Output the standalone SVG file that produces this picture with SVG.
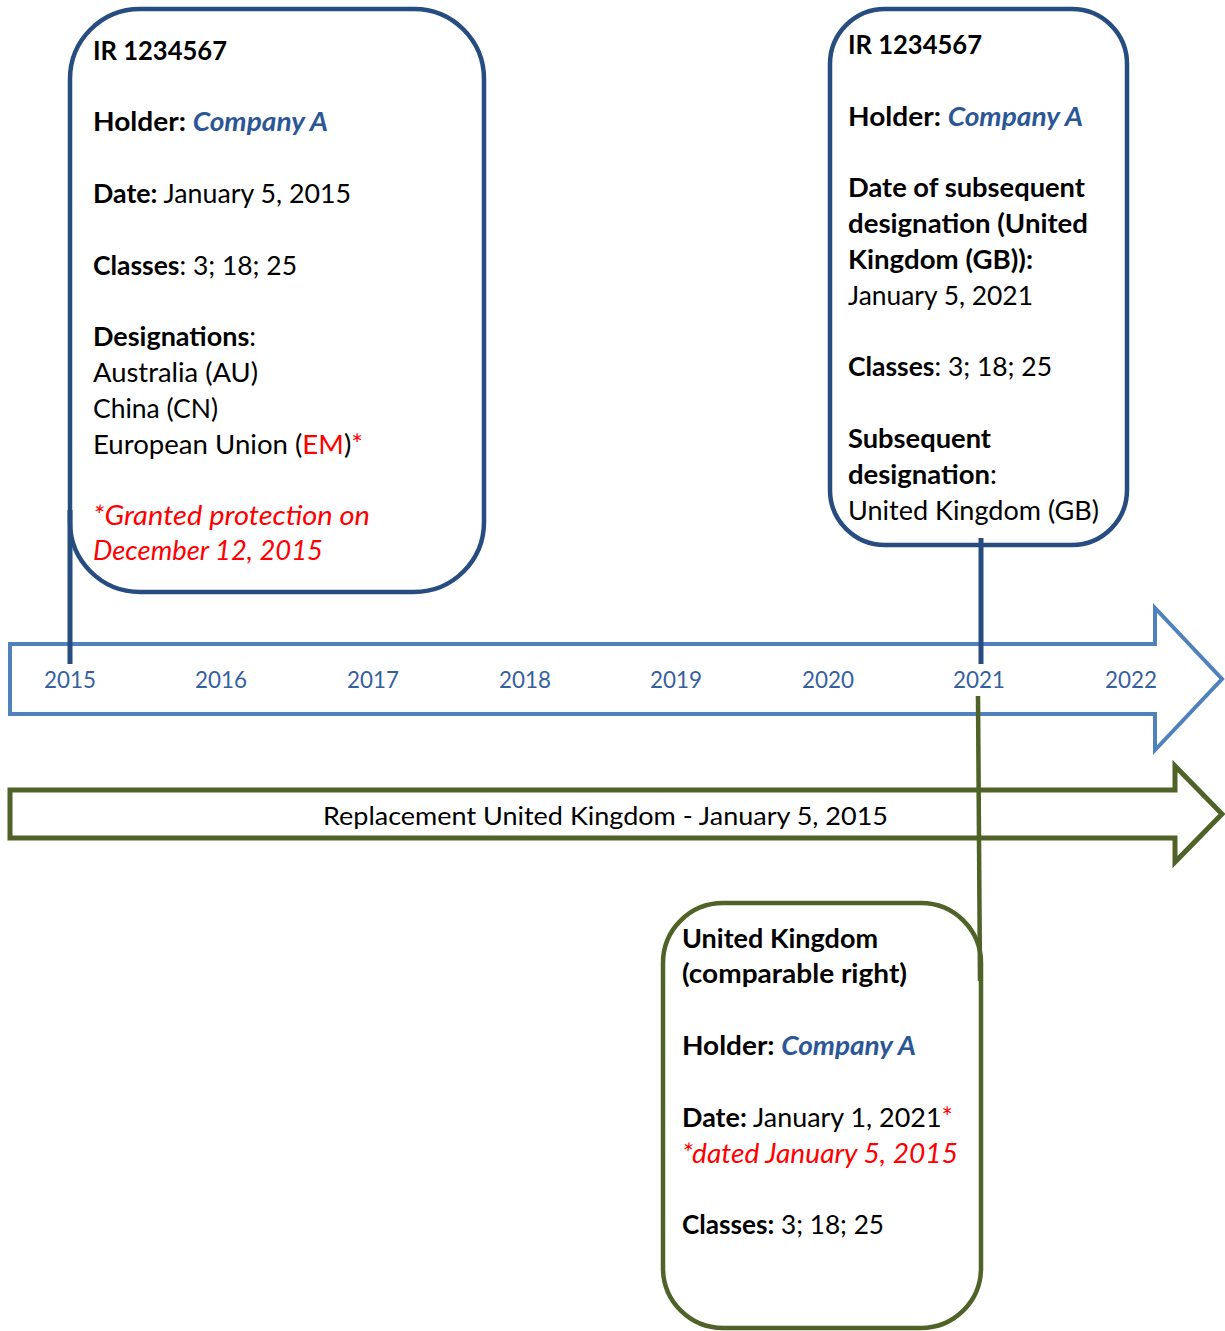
<svg xmlns="http://www.w3.org/2000/svg" width="1225" height="1331" viewBox="0 0 1225 1331">
<style>
  text { font-family: Lato, "Open Sans", "Liberation Sans", sans-serif; font-size: 27.5px; fill: #000; }
  .b { font-weight: bold; }
  .co { font-weight: bold; font-style: italic; fill: #2B5797; }
  .red { fill: #FF0000; }
  .ri { fill: #FF0000; font-style: italic; }
  .yr { font-size: 24px; fill: #3460A0; text-anchor: middle; }
  .box1 { fill: #fff; stroke: #264C80; stroke-width: 4.5; }
  .box3 { fill: #fff; stroke: #4F6228; stroke-width: 4.5; }
  .tl { fill: #fff; stroke: #4F81BD; stroke-width: 4; }
  .gl { fill: #fff; stroke: #4F6228; stroke-width: 5; }
  .cb { stroke: #264C80; stroke-width: 5; fill: none; }
  .cg { stroke: #4F6228; stroke-width: 4.5; fill: none; }
</style>

<g id="timeline">
  <path class="tl" d="M10,644 L1155,644 L1155,608 L1222,679 L1155,750 L1155,714 L10,714 Z"/>
  <text class="yr" x="70" y="688" textLength="52" lengthAdjust="spacingAndGlyphs">2015</text>
  <text class="yr" x="221" y="688" textLength="52" lengthAdjust="spacingAndGlyphs">2016</text>
  <text class="yr" x="373" y="688" textLength="52" lengthAdjust="spacingAndGlyphs">2017</text>
  <text class="yr" x="525" y="688" textLength="52" lengthAdjust="spacingAndGlyphs">2018</text>
  <text class="yr" x="676" y="688" textLength="52" lengthAdjust="spacingAndGlyphs">2019</text>
  <text class="yr" x="828" y="688" textLength="52" lengthAdjust="spacingAndGlyphs">2020</text>
  <text class="yr" x="979" y="688" textLength="52" lengthAdjust="spacingAndGlyphs">2021</text>
  <text class="yr" x="1131" y="688" textLength="52" lengthAdjust="spacingAndGlyphs">2022</text>
</g>

<g id="replacement">
  <path class="gl" d="M10,790 L1175,790 L1175,766 L1222,814 L1175,862 L1175,838 L10,838 Z"/>
  <text x="323" y="825" style="font-size:25px" textLength="565" lengthAdjust="spacingAndGlyphs">Replacement United Kingdom - January 5, 2015</text>
</g>

<g id="ir-2015">
  <rect class="box1" x="70" y="9" width="414" height="583" rx="70" ry="70"/>
  <text class="b" x="93" y="60" textLength="134" lengthAdjust="spacingAndGlyphs">IR 1234567</text>
  <text x="93" y="131" textLength="235" lengthAdjust="spacingAndGlyphs"><tspan class="b">Holder: </tspan><tspan class="co">Company A</tspan></text>
  <text x="93" y="203" textLength="258" lengthAdjust="spacingAndGlyphs"><tspan class="b">Date:</tspan> January 5, 2015</text>
  <text x="93" y="275" textLength="204" lengthAdjust="spacingAndGlyphs"><tspan class="b">Classes</tspan>: 3; 18; 25</text>
  <text x="93" y="346" textLength="163" lengthAdjust="spacingAndGlyphs"><tspan class="b">Designations</tspan>:</text>
  <text x="93" y="382" textLength="165" lengthAdjust="spacingAndGlyphs">Australia (AU)</text>
  <text x="93" y="418" textLength="125" lengthAdjust="spacingAndGlyphs">China (CN)</text>
  <text x="93" y="454" textLength="270" lengthAdjust="spacingAndGlyphs">European Union (<tspan class="red">EM</tspan>)<tspan class="red">*</tspan></text>
  <text class="ri" x="93" y="525" textLength="277" lengthAdjust="spacingAndGlyphs">*Granted protection on</text>
  <text class="ri" x="93" y="560" textLength="230" lengthAdjust="spacingAndGlyphs">December 12, 2015</text>
</g>

<g id="ir-2021">
  <rect class="box1" x="830" y="9" width="297" height="536" rx="55" ry="55"/>
  <text class="b" x="848" y="54" textLength="134" lengthAdjust="spacingAndGlyphs">IR 1234567</text>
  <text x="848" y="126" textLength="235" lengthAdjust="spacingAndGlyphs"><tspan class="b">Holder: </tspan><tspan class="co">Company A</tspan></text>
  <text class="b" x="848" y="197" textLength="237" lengthAdjust="spacingAndGlyphs">Date of subsequent</text>
  <text class="b" x="848" y="233" textLength="240" lengthAdjust="spacingAndGlyphs">designation (United</text>
  <text class="b" x="848" y="269" textLength="185" lengthAdjust="spacingAndGlyphs">Kingdom (GB)):</text>
  <text x="848" y="305" textLength="185" lengthAdjust="spacingAndGlyphs">January 5, 2021</text>
  <text x="848" y="376" textLength="204" lengthAdjust="spacingAndGlyphs"><tspan class="b">Classes</tspan>: 3; 18; 25</text>
  <text class="b" x="848" y="448" textLength="143" lengthAdjust="spacingAndGlyphs">Subsequent</text>
  <text x="848" y="484" textLength="149" lengthAdjust="spacingAndGlyphs"><tspan class="b">designation</tspan>:</text>
  <text x="848" y="520" textLength="251" lengthAdjust="spacingAndGlyphs">United Kingdom (GB)</text>
</g>

<g id="uk-comparable">
  <rect class="box3" x="663" y="903" width="318" height="425" rx="60" ry="60"/>
  <text class="b" x="682" y="948" textLength="196" lengthAdjust="spacingAndGlyphs">United Kingdom</text>
  <text class="b" x="682" y="983" textLength="225" lengthAdjust="spacingAndGlyphs">(comparable right)</text>
  <text x="682" y="1055" textLength="234" lengthAdjust="spacingAndGlyphs"><tspan class="b">Holder: </tspan><tspan class="co">Company A</tspan></text>
  <text x="682" y="1127" textLength="271" lengthAdjust="spacingAndGlyphs"><tspan class="b">Date:</tspan> January 1, 2021<tspan class="red">*</tspan></text>
  <text class="ri" x="682" y="1163" textLength="276" lengthAdjust="spacingAndGlyphs">*dated January 5, 2015</text>
  <text x="682" y="1234" textLength="202" lengthAdjust="spacingAndGlyphs"><tspan class="b">Classes:</tspan> 3; 18; 25</text>
</g>

<g id="connectors">
  <line class="cb" x1="70" y1="510" x2="70" y2="664"/>
  <line class="cb" x1="981" y1="538" x2="981" y2="664"/>
  <line class="cg" x1="978" y1="696" x2="980" y2="981"/>
</g>
</svg>
